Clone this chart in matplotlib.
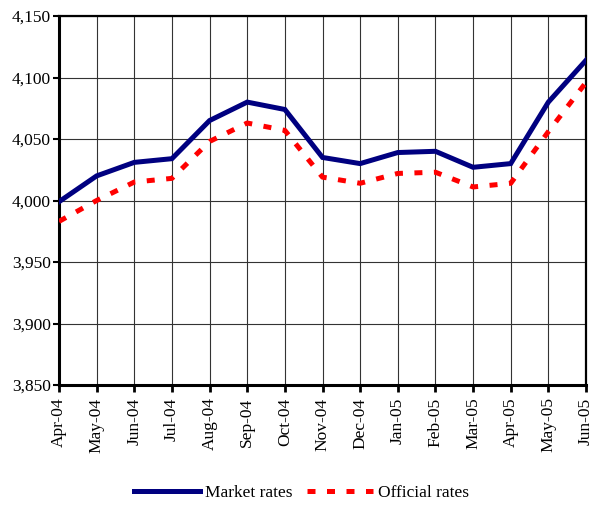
import matplotlib.pyplot as plt

months = ["Apr-04", "May-04", "Jun-04", "Jul-04", "Aug-04", "Sep-04", "Oct-04",
          "Nov-04", "Dec-04", "Jan-05", "Feb-05", "Mar-05", "Apr-05", "May-05", "Jun-05"]
market = [3999, 4020, 4031, 4034, 4065, 4080, 4074, 4035, 4030, 4039, 4040,
          4027, 4030, 4080, 4114]
official = [3983, 4000, 4015, 4018, 4048, 4063, 4057, 4019, 4014, 4022, 4023,
            4011, 4014, 4056, 4096]

plt.rcParams['font.family'] = ['Liberation Serif', 'DejaVu Serif']

fig = plt.figure(figsize=(6.03, 5.07), dpi=100)
ax = fig.add_axes([59 / 603, 1 - 385 / 507, 527 / 603, 369 / 507])

x = list(range(len(months)))
ax.plot(x, market, color="#000080", lw=3.6, label="Market rates",
        solid_joinstyle="miter", zorder=3)
ax.plot(x, official, color="#ff0000", lw=3.6, ls=(0, (1.6, 2.3)),
        label="Official rates", zorder=3)

ax.set_xlim(0, len(months) - 1)
ax.set_ylim(3850, 4150)
ax.set_yticks(range(3850, 4151, 50))
ax.set_yticklabels([f"{v:,}" for v in range(3850, 4151, 50)], fontsize=12.5)
ax.set_xticks(x)
ax.set_xticklabels(months, rotation=90, fontsize=12.5)

ax.grid(True, color="#333333", lw=0.8)
ax.set_axisbelow(True)
for side, w in [("left", 2.2), ("bottom", 2.2), ("top", 1.6), ("right", 1.6)]:
    ax.spines[side].set_linewidth(w)
    ax.spines[side].set_color("black")
ax.tick_params(axis="x", direction="out", length=5, width=2, pad=4)
ax.tick_params(axis="y", direction="out", length=4, width=1.5, pad=2)

fig.legend(loc="center", bbox_to_anchor=(0.5, 1 - 493 / 507), ncol=2, frameon=False,
           fontsize=12.5, handlelength=3.8, columnspacing=0.8, handletextpad=0.3,
           borderpad=0)

fig.savefig("out.png", dpi=100)
